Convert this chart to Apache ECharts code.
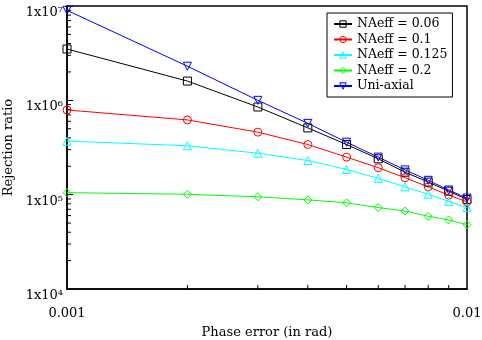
<!DOCTYPE html>
<html>
<head>
<meta charset="utf-8">
<script src="https://cdn.jsdelivr.net/npm/echarts@6/dist/echarts.min.js"></script>
<style>
  html, body { margin: 0; padding: 0; background: #fff; }
  #chart { width: 482px; height: 340px; }
</style>
</head>
<body>
<div id="chart"></div>
<script>
// phase error (rad)
const phaseError = [0.001, 0.002, 0.003, 0.004, 0.005, 0.006, 0.007, 0.008, 0.009, 0.01];

// rejection ratio
const na006 = [3.5e6, 1.6e6, 8.5e5, 5.1e5, 3.4e5, 2.4e5, 1.73e5, 1.36e5, 1.09e5, 8.9e4];
const na01 = [7.9e5, 6.2e5, 4.6e5, 3.4e5, 2.5e5, 1.93e5, 1.51e5, 1.21e5, 9.9e4, 8.4e4];
const na0125 = [3.7e5, 3.3e5, 2.75e5, 2.3e5, 1.85e5, 1.49e5, 1.21e5, 1.01e5, 8.5e4, 7.3e4];
const na02 = [1.05e5, 1.01e5, 9.5e4, 8.8e4, 8.2e4, 7.3e4, 6.7e4, 5.9e4, 5.4e4, 4.8e4];
const uniAxial = [9.0e6, 2.3e6, 1.0e6, 5.7e5, 3.6e5, 2.5e5, 1.83e5, 1.42e5, 1.12e5, 9.2e4];

const seriesNames = ['NAeff = 0.06', 'NAeff = 0.1', 'NAeff = 0.125', 'NAeff = 0.2', 'Uni-axial'];
const xTickLabels = ['0.001', '0.01'];
const yTickLabels = { 4: '1x10⁴', 5: '1x10⁵', 6: '1x10⁶', 7: '1x10⁷' };

const FONT = 'DejaVu Serif';

const chart = echarts.init(document.getElementById('chart'));

function makeSeries(name, values, color, symbol, rotate) {
  return {
    name: name,
    type: 'line',
    data: phaseError.map((x, i) => [x, values[i]]),
    symbol: symbol,
    symbolSize: 8,
    symbolRotate: rotate || 0,
    showAllSymbol: true,
    clip: false,
    lineStyle: { color: color, width: 1 },
    itemStyle: { color: 'rgba(255,255,255,0)', borderColor: color, borderWidth: 1 },
    emphasis: { disabled: true }
  };
}

const options = {
  animation: false,
  grid: {
    left: 67, right: 15, top: 6, bottom: 51,
    outerBoundsMode: 'none',
    containLabel: false,
    show: true,
    borderColor: '#000',
    borderWidth: 1.5
  },
  legend: {
    orient: 'vertical',
    left: 327,
    top: 13,
    padding: [4, 5, 4, 6],
    itemGap: 1.5,
    itemWidth: 18,
    itemHeight: 8,
    borderColor: '#000',
    borderWidth: 1,
    backgroundColor: '#fff',
    itemStyle: { color: 'rgba(255,255,255,0)', borderWidth: 1 },
    data: seriesNames,
    textStyle: { fontFamily: FONT, fontSize: 12.5, color: '#000', lineHeight: 14 }
  },
  xAxis: {
    type: 'log',
    logBase: 10,
    min: 0.001,
    max: 0.01,
    name: 'Phase error (in rad)',
    nameLocation: 'middle',
    nameGap: 37,
    nameTextStyle: { fontFamily: FONT, fontSize: 13, color: '#000' },
    axisLine: { lineStyle: { color: '#000', width: 1.5 } },
    axisTick: { show: false },
    splitLine: { show: false },
    axisLabel: {
      margin: 18,
      fontFamily: FONT, fontSize: 13, color: '#000',
      formatter: function (v) {
        return v < 0.005 ? xTickLabels[0] : xTickLabels[1];
      }
    }
  },
  yAxis: {
    type: 'log',
    logBase: 10,
    min: 1e4,
    max: 1e7,
    name: 'Rejection ratio',
    nameLocation: 'middle',
    nameGap: 50,
    nameTextStyle: { fontFamily: FONT, fontSize: 13, color: '#000' },
    axisLine: { lineStyle: { color: '#000', width: 1.5 } },
    axisTick: { inside: true, length: 6, lineStyle: { color: '#000' } },
    splitLine: { show: false },
    axisLabel: {
      margin: 4,
      verticalAlign: 'top',
      lineHeight: 13,
      fontFamily: FONT, fontSize: 13, color: '#000',
      formatter: function (v) {
        return yTickLabels[Math.round(Math.log10(v))];
      }
    }
  },
  series: [
    makeSeries(seriesNames[0], na006, '#000000', 'rect'),
    makeSeries(seriesNames[1], na01, '#ff0000', 'circle'),
    makeSeries(seriesNames[2], na0125, '#00ffff', 'triangle'),
    makeSeries(seriesNames[3], na02, '#00ff00', 'diamond'),
    makeSeries(seriesNames[4], uniAxial, '#0000ff', 'triangle', 180)
  ]
};

chart.setOption(options);

// minor ticks at 2..9 of each decade, placed through the axis scales
function drawMinorTicks() {
  const els = [];
  const xMinor = [];
  for (let k = 2; k <= 9; k++) xMinor.push(k * 0.001);
  const yMinor = [];
  [1e4, 1e5, 1e6].forEach(d => { for (let k = 2; k <= 9; k++) yMinor.push(k * d); });

  const base = chart.convertToPixel({ gridIndex: 0 }, [0.001, 1e4]);
  xMinor.forEach(x => {
    const p = chart.convertToPixel({ gridIndex: 0 }, [x, 1e4]);
    els.push({ type: 'line', shape: { x1: p[0], y1: base[1], x2: p[0], y2: base[1] - 4 },
      style: { stroke: '#000', lineWidth: 1 }, silent: true });
  });
  yMinor.forEach(y => {
    const p = chart.convertToPixel({ gridIndex: 0 }, [0.001, y]);
    els.push({ type: 'line', shape: { x1: base[0], y1: p[1], x2: base[0] + 4, y2: p[1] },
      style: { stroke: '#000', lineWidth: 1 }, silent: true });
  });
  chart.setOption({ graphic: els });
}
drawMinorTicks();
</script>
</body>
</html>
